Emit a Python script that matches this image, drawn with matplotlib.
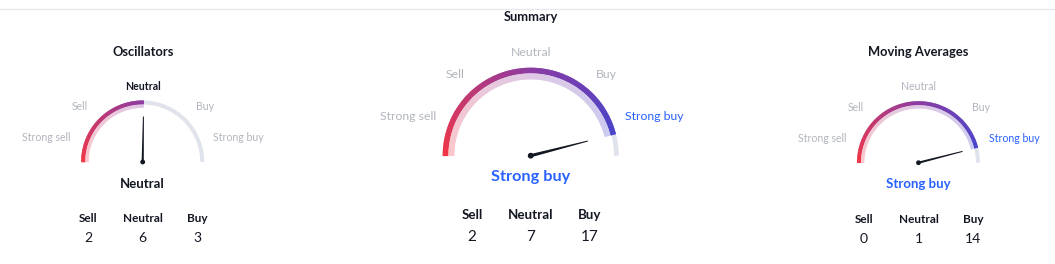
import numpy as np
import matplotlib
matplotlib.use("Agg")
import matplotlib.pyplot as plt
from matplotlib.patches import Wedge, Circle, Polygon

plt.rcParams["font.family"] = ["Lato", "DejaVu Sans"]

# data
gauge_titles = ["Oscillators", "Summary", "Moving Averages"]
ratings = [0.01, 0.84, 0.84]          # -1 strong sell ... +1 strong buy
verdicts = ["Neutral", "Strong buy", "Strong buy"]
level_labels = ["Strong sell", "Sell", "Neutral", "Buy", "Strong buy"]
count_labels = ["Sell", "Neutral", "Buy"]
sell_counts = [2, 2, 0]
neutral_counts = [6, 7, 1]
buy_counts = [3, 17, 14]

DARK = "#131722"
GRAY = "#b2b5be"
BLUE = "#2962ff"
TRACK = "#e0e3eb"

stops = np.array([[0.949, 0.212, 0.271],   # red at 180 deg
                  [0.553, 0.231, 0.639],   # purple at 90 deg
                  [0.231, 0.275, 0.820]])  # blue at 0 deg


def arc_color(angle):
    t = (180 - angle) / 90.0
    if t <= 1:
        return stops[0] + (stops[1] - stops[0]) * t
    return stops[1] + (stops[2] - stops[1]) * (t - 1)


def light(c, a=0.28):
    return 1 - a * (1 - c)


# layout for each gauge (pixels)
small = dict(R=61.5, outer=4.0, inner=3.3, track=4.0, needle=45.5, nw=2.2, dot=2.4,
             lab_fs=7.6, lab_pos=[(-96, -24.5), (-62.5, -55.5), (0, -76), (62.5, -55.5), (96, -24.5)],
             res_dy=21.5, res_fs=9.5, head_dy=57, head_fs=8.5, num_dy=76, num_fs=10,
             cnt_dx=54.5, title_dy=-110.5)
big = dict(R=88, outer=5.7, inner=6.0, track=4.7, needle=59, nw=3.2, dot=2.9,
           lab_fs=8.8, lab_pos=[(-123, -39), (-75.7, -81.4), (0, -103.4), (76, -81.4), (123.3, -39)],
           res_dy=21, res_fs=11.7, head_dy=59.3, head_fs=9.6, num_dy=81, num_fs=11,
           cnt_dx=58.6, title_dy=None)
centers = [(142.7, 162.0), (530.7, 155.7), (918.5, 162.7)]
layouts = [small, big, dict(small, res_fs=9.5)]

fig = plt.figure(figsize=(10.55, 2.64), dpi=100)
ax = fig.add_axes([0, 0, 1, 1])
ax.set_xlim(0, 1055)
ax.set_ylim(264, 0)
ax.axis("off")

ax.plot([0, 1055], [9, 9], color="#e6e8ee", lw=1)
ax.text(531, 17, "Summary", ha="center", va="center", fontsize=9.3,
        fontweight="bold", color=DARK)


def draw_gauge(i):
    cx, cy = centers[i]
    L = layouts[i]
    R = L["R"]
    needle_angle = 90 - 90 * ratings[i]

    # gray track over the whole upper half circle (y axis is flipped)
    ax.add_patch(Wedge((cx, cy), R, -180, 0, width=L["track"], facecolor=TRACK,
                       edgecolor="none"))

    # coloured part from strong sell up to the needle
    steps = np.linspace(180, needle_angle, 150)
    for a0, a1 in zip(steps[:-1], steps[1:]):
        c = arc_color((a0 + a1) / 2)
        ax.add_patch(Wedge((cx, cy), R, -a0 - 0.3, -a1 + 0.3, width=L["outer"],
                           facecolor=c, edgecolor="none"))
        ax.add_patch(Wedge((cx, cy), R - L["outer"], -a0 - 0.3, -a1 + 0.3,
                           width=L["inner"], facecolor=light(c), edgecolor="none"))

    # needle
    th = np.radians(needle_angle)
    ux, uy = np.cos(th), -np.sin(th)
    px, py = -uy, ux
    w0, w1 = L["nw"] / 2, 0.5
    tip = (cx + ux * L["needle"], cy + uy * L["needle"])
    ax.add_patch(Polygon([(cx + px * w0, cy + py * w0), (tip[0] + px * w1, tip[1] + py * w1),
                          (tip[0] - px * w1, tip[1] - py * w1), (cx - px * w0, cy - py * w0)],
                         closed=True, facecolor=DARK, edgecolor="none"))
    ax.add_patch(Circle((cx, cy), L["dot"], facecolor=DARK, edgecolor="none"))

    # level labels
    for lab, (dx, dy) in zip(level_labels, L["lab_pos"]):
        active = lab == verdicts[i]
        if active and lab == "Neutral":
            col, fw = DARK, "bold"
        elif active:
            col, fw = BLUE, "normal"
        else:
            col, fw = GRAY, "normal"
        ax.text(cx + dx, cy + dy, lab, ha="center", va="center",
                fontsize=L["lab_fs"], color=col, fontweight=fw)

    # verdict
    vcol = DARK if verdicts[i] == "Neutral" else BLUE
    ax.text(cx, cy + L["res_dy"], verdicts[i], ha="center", va="center",
            fontsize=L["res_fs"], color=vcol, fontweight="bold")

    # title
    if L["title_dy"] is not None:
        ax.text(cx, cy + L["title_dy"], gauge_titles[i], ha="center", va="center",
                fontsize=9.3, fontweight="bold", color=DARK)

    # counts
    counts = [sell_counts[i], neutral_counts[i], buy_counts[i]]
    for k, (lab, n) in enumerate(zip(count_labels, counts)):
        x = cx + (k - 1) * L["cnt_dx"]
        ax.text(x, cy + L["head_dy"], lab, ha="center", va="center",
                fontsize=L["head_fs"], fontweight="bold", color=DARK)
        ax.text(x, cy + L["num_dy"], str(n), ha="center", va="center",
                fontsize=L["num_fs"], color=DARK)


for i in range(3):
    draw_gauge(i)

fig.savefig("out.png", dpi=100)
